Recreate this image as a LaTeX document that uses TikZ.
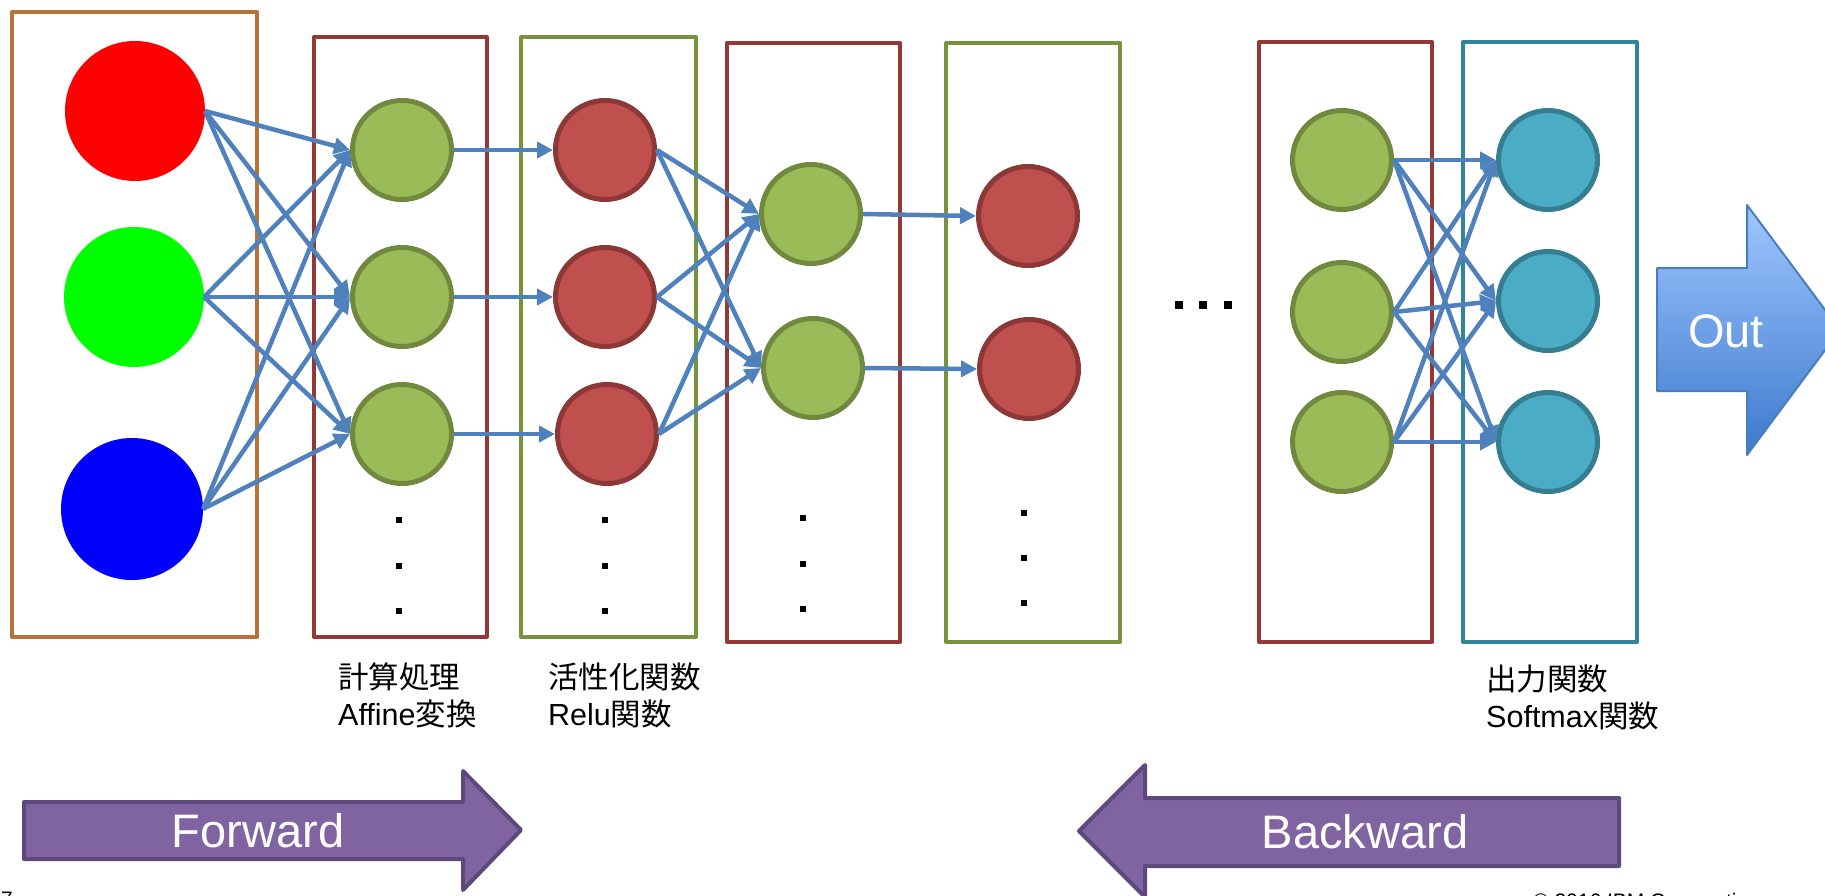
\documentclass[tikz,border=0pt]{standalone}
\usepackage{fontspec}
\setmainfont{Liberation Sans}
\newfontfamily\cjk{Noto Sans CJK JP}
\usetikzlibrary{arrows.meta}

\definecolor{boxorange}{RGB}{184,114,56}
\definecolor{boxred}{RGB}{149,55,53}
\definecolor{boxolive}{RGB}{119,147,60}
\definecolor{boxteal}{RGB}{49,133,155}
\definecolor{greenfill}{RGB}{155,187,89}
\definecolor{greenedge}{RGB}{113,137,63}
\definecolor{redfill}{RGB}{192,80,77}
\definecolor{rededge}{RGB}{140,56,54}
\definecolor{tealfill}{RGB}{75,172,198}
\definecolor{tealedge}{RGB}{53,125,145}
\definecolor{linkblue}{RGB}{79,129,189}
\definecolor{purplefill}{RGB}{128,100,162}
\definecolor{purpleedge}{RGB}{94,73,126}
\definecolor{outtop}{RGB}{160,198,255}
\definecolor{outbottom}{RGB}{60,122,205}
\definecolor{outedge}{RGB}{74,126,187}

\tikzset{
  layerbox/.style={rectangle, line width=4pt, line join=round, inner sep=0pt},
  unit/.style={circle, minimum size=99pt, line width=5pt, inner sep=0pt},
  gunit/.style={unit, draw=greenedge, fill=greenfill},
  runit/.style={unit, draw=rededge, fill=redfill},
  tunit/.style={unit, draw=tealedge, fill=tealfill},
  inunit/.style={circle, minimum size=140pt, inner sep=0pt, outer sep=0pt, draw=none},
  link/.style={draw=linkblue, line width=4.5pt, -{Triangle[length=16pt,width=16pt]}},
  lbl/.style={font=\fontsize{30.5}{37}\selectfont, inner sep=0pt, anchor=base west},
  bigarrow/.style={fill=purplefill, draw=purpleedge, line width=4pt, line join=round},
  bigtext/.style={font=\fontsize{47}{56}\selectfont, text=white, inner sep=0pt},
  vdot/.style={fill=black},
  foot/.style={font=\fontsize{21}{25}\selectfont, inner sep=0pt, anchor=base west}
}

\begin{document}
\begin{tikzpicture}[x=1pt, y=-1pt]
\useasboundingbox (0,0) rectangle (1825,896);
\fill[white] (0,0) rectangle (1825,896);

% layer frames
\node[layerbox, draw=boxorange, minimum width=245pt, minimum height=625pt] (L1) at (134.5,324.5) {};
\node[layerbox, draw=boxred,    minimum width=173pt, minimum height=600pt] (L2) at (400.5,337) {};
\node[layerbox, draw=boxolive,  minimum width=175pt, minimum height=600pt] (L3) at (608.5,337) {};
\node[layerbox, draw=boxred,    minimum width=173pt, minimum height=599pt] (L4) at (813.5,342.5) {};
\node[layerbox, draw=boxolive,  minimum width=174pt, minimum height=599pt] (L5) at (1033,342.5) {};
\node[layerbox, draw=boxred,    minimum width=173pt, minimum height=600pt] (L6) at (1345.5,342) {};
\node[layerbox, draw=boxteal,   minimum width=174pt, minimum height=600pt] (L7) at (1550,342) {};

% input units
\node[inunit, fill={rgb,255:red,255;green,0;blue,0}] (i1) at (135,111) {};
\node[inunit, fill={rgb,255:red,0;green,255;blue,0}] (i2) at (134,297) {};
\node[inunit, fill={rgb,255:red,0;green,0;blue,255}, minimum size=142pt] (i3) at (132,509) {};

% affine layer
\node[gunit] (a1) at (402,150) {};
\node[gunit] (a2) at (402,297) {};
\node[gunit] (a3) at (402,434) {};

% relu layer
\node[runit] (r1) at (605,150) {};
\node[runit] (r2) at (605,297) {};
\node[runit] (r3) at (607,434) {};

% second affine layer
\node[gunit] (b1) at (811,214) {};
\node[gunit] (b2) at (813,368) {};

% second relu layer
\node[runit] (s1) at (1028,216) {};
\node[runit] (s2) at (1029,369) {};

% last affine layer
\node[gunit] (c1) at (1342,160) {};
\node[gunit] (c2) at (1342,312) {};
\node[gunit] (c3) at (1342,442) {};

% softmax layer
\node[tunit] (o1) at (1548,160) {};
\node[tunit] (o2) at (1548,301) {};
\node[tunit] (o3) at (1548,442) {};

% connections
\foreach \s in {i1,i2,i3}
  \foreach \t in {a1,a2,a3}
    \draw[link] (\s.east) -- (\t.west);
\draw[link] (a1.east) -- (r1.west);
\draw[link] (a2.east) -- (r2.west);
\draw[link] (a3.east) -- (r3.west);
\foreach \s in {r1,r2,r3}
  \foreach \t in {b1,b2}
    \draw[link] (\s.east) -- (\t.west);
\draw[link] (b1.east) -- (s1.west);
\draw[link] (b2.east) -- (s2.west);
\foreach \s in {c1,c2,c3}
  \foreach \t in {o1,o2,o3}
    \draw[link] (\s.east) -- (\t.west);

% vertical ellipses inside the layers
\foreach \x/\ya/\yb/\yc in {399/520/566/611, 605/520/566/611, 803/518/564/609, 1024/513/558/603}
  \foreach \y in {\ya,\yb,\yc}
    \fill[vdot] (\x-3,\y-3) rectangle ++(6,6);

% horizontal ellipsis between the layers
\foreach \x in {1179,1203,1228}
  \fill[vdot] (\x-4,305-4) rectangle ++(8,8);

% output arrow
\draw[draw=outedge, line width=2pt, line join=round, top color=outtop, bottom color=outbottom]
  (1657,268) -- (1747,268) -- (1747,205) -- (1840,330) -- (1747,455) -- (1747,391) -- (1657,391) -- cycle;
\node[bigtext] (outlbl) at (1726,331) {Out};

% forward / backward arrows
\draw[bigarrow] (24,802) -- (463,802) -- (463,771) -- (521,830) -- (463,890) -- (463,859) -- (24,859) -- cycle;
\node[bigtext] (fwd) at (258,831) {Forward};
\draw[bigarrow] (1619,798) -- (1145,798) -- (1145,765) -- (1079,831) -- (1145,897) -- (1145,866) -- (1619,866) -- cycle;
\node[bigtext] (bwd) at (1365,832) {Backward};

% layer captions
\node[lbl] (t1) at (338,688) {{\cjk 計算処理}};
\node[lbl] (t2) at (338,725) {Affine{\cjk 変換}};
\node[lbl] (t3) at (548,688) {{\cjk 活性化関数}};
\node[lbl] (t4) at (548,725) {Relu{\cjk 関数}};
\node[lbl] (t5) at (1486,690) {{\cjk 出力関数}};
\node[lbl] (t6) at (1486,727) {Softmax{\cjk 関数}};

% footer
\node[foot] (pg) at (1,906) {7};
\node[foot] (copy) at (1533,908) {© 2016 IBM Corporation};
\end{tikzpicture}
\end{document}
